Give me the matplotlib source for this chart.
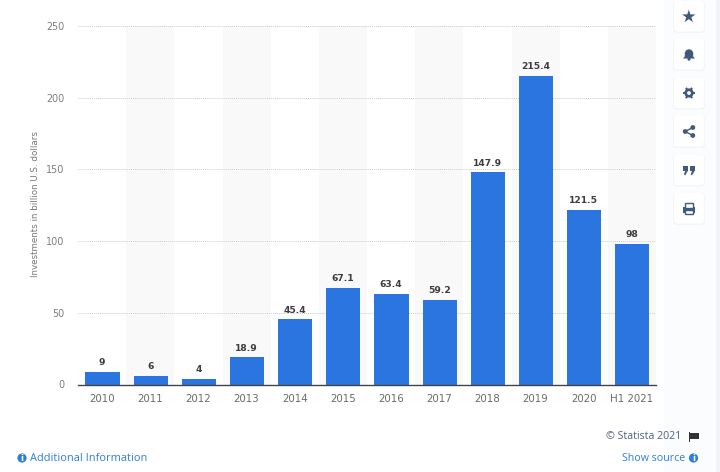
import matplotlib
matplotlib.use("Agg")
import matplotlib.pyplot as plt
from matplotlib.patches import Circle, FancyBboxPatch, Polygon, Rectangle, Wedge
import numpy as np

years = ["2010", "2011", "2012", "2013", "2014", "2015", "2016", "2017", "2018", "2019", "2020", "H1 2021"]
investments = [9, 6, 4, 18.9, 45.4, 67.1, 63.4, 59.2, 147.9, 215.4, 121.5, 98]
bar_labels = ["9", "6", "4", "18.9", "45.4", "67.1", "63.4", "59.2", "147.9", "215.4", "121.5", "98"]
y_ticks = [0, 50, 100, 150, 200, 250]

W, H = 720, 472
BLUE = "#2a75e0"
LINK = "#2f7fd8"
ICON = "#3f5a7c"

plt.rcParams["font.family"] = ["DejaVu Sans"]
fig = plt.figure(figsize=(W / 100, H / 100), dpi=100, facecolor="white")

# page layer in pixel coordinates
bg = fig.add_axes([0, 0, 1, 1], zorder=0)
bg.set_xlim(0, W)
bg.set_ylim(H, 0)
bg.axis("off")
bg.add_patch(Rectangle((664, 0), 52, H, color="#fbfcfd", lw=0))
bg.add_patch(Rectangle((716, 0), 4, H, color="#f1f3f8", lw=0))

# chart
ax = fig.add_axes([78 / W, 1 - 384.5 / H, 578 / W, 358.5 / H], zorder=1)
ax.patch.set_alpha(0)
x = np.arange(len(years))
for i in x[1::2]:
    ax.axvspan(i - 0.5, i + 0.5, color="#f9f9f9", lw=0, zorder=0)
ax.bar(x + 0.01, investments, width=0.71, color=BLUE, zorder=3)
for i, (v, s) in enumerate(zip(investments, bar_labels)):
    ax.annotate(s, (i, v), xytext=(0, 3.5), textcoords="offset points", ha="center", va="bottom",
                fontsize=6.6, fontweight="bold", color="#3d3d3d", zorder=4)

ax.set_xlim(-0.5, len(years) - 0.5)
ax.set_ylim(0, 250)
ax.set_xticks(x, years)
ax.set_yticks(y_ticks)
ax.grid(axis="y", color="#cccccc", linestyle=(0, (1, 1)), linewidth=0.7, zorder=1)
ax.set_axisbelow(True)
ax.tick_params(axis="both", length=0, labelsize=7.4, labelcolor="#6b6b6b")
ax.tick_params(axis="x", pad=6.5)
ax.tick_params(axis="y", pad=10, labelsize=6.9, labelcolor="#7d7d7d")
for name in ["top", "right", "left"]:
    ax.spines[name].set_visible(False)
ax.spines["bottom"].set_color("#444444")
ax.spines["bottom"].set_linewidth(1)
ax.spines["bottom"].set_zorder(5)
ax.set_ylabel("Investments in billion U.S. dollars", fontsize=6.3, color="#777777")
ax.yaxis.set_label_coords(-37.5 / 578, 0.503)


# top layer: footer and side buttons
ui = fig.add_axes([0, 0, 1, 1], zorder=2)
ui.set_xlim(0, W)
ui.set_ylim(H, 0)
ui.axis("off")


def info_icon(cx, cy):
    ui.add_patch(Circle((cx, cy), 4.6, color=LINK, lw=0))
    ui.text(cx, cy + 0.2, "i", color="white", fontsize=6, fontweight="bold", ha="center", va="center")


info_icon(22, 458)
ui.text(29.5, 458.7, "Additional Information", color=LINK, fontsize=7.9, va="center", family="Open Sans")
ui.text(685.5, 458.7, "Show source", color=LINK, fontsize=7.7, va="center", ha="right", family="Open Sans")
info_icon(693.5, 458)
ui.text(681, 436.5, "© Statista 2021", color="#4d6280", fontsize=7.7, va="center", ha="right", family="Open Sans")
ui.add_patch(Rectangle((688.5, 432), 1, 9.5, color="#333333", lw=0))
ui.add_patch(Polygon([(690, 433), (698.5, 433), (698.5, 438.5), (690, 438.5)], color="#333333", lw=0))

button_y = [16.5, 54.5, 93, 131.5, 170, 208.5]
for cy in button_y:
    ui.add_patch(FancyBboxPatch((673, cy - 15.5), 32, 32, boxstyle="round,pad=0,rounding_size=4",
                                facecolor="#f3f5f8", edgecolor="none"))
    ui.add_patch(FancyBboxPatch((674, cy - 15.5), 30, 30.5, boxstyle="round,pad=0,rounding_size=3",
                                facecolor="white", edgecolor="none"))

cx = 689
# star
ui.text(cx, button_y[0], "★", color=ICON, fontsize=12.5, ha="center", va="center", family="DejaVu Sans")
# bell
cy = button_y[1]
ui.add_patch(Wedge((cx, cy - 1), 4.2, 180, 360, color=ICON, lw=0))
ui.add_patch(Polygon([(cx - 4.2, cy - 1.5), (cx + 4.2, cy - 1.5), (cx + 4.2, cy + 2), (cx + 6, cy + 4), (cx - 6, cy + 4), (cx - 4.2, cy + 2)], color=ICON, lw=0))
ui.add_patch(Circle((cx, cy + 4.6), 1.6, color=ICON, lw=0))
# gear
cy = button_y[2]
ui.add_patch(Circle((cx, cy), 4.6, color=ICON, lw=0))
for a in np.deg2rad(np.arange(0, 360, 60)):
    ui.plot([cx + 3.5 * np.cos(a), cx + 6 * np.cos(a)], [cy + 3.5 * np.sin(a), cy + 6 * np.sin(a)],
            color=ICON, lw=1.5, solid_capstyle="butt")
ui.add_patch(Circle((cx, cy), 1.9, color="white", lw=0))
# share
cy = button_y[3]
nodes = [(cx - 3.8, cy), (cx + 3.8, cy - 4), (cx + 3.8, cy + 4)]
ui.plot([nodes[1][0], nodes[0][0], nodes[2][0]], [nodes[1][1], nodes[0][1], nodes[2][1]], color=ICON, lw=1)
for n in nodes:
    ui.add_patch(Circle(n, 2.4, color=ICON, lw=0))
# quotes
cy = button_y[4]
for off in (-3.4, 3.4):
    ui.add_patch(Rectangle((cx + off - 2.8, cy - 4.5), 5.6, 5, color=ICON, lw=0))
    ui.add_patch(Polygon([(cx + off + 2.8, cy), (cx + off - 0.5, cy + 5.5), (cx + off - 1.7, cy + 4.3), (cx + off, cy)], color=ICON, lw=0))
# print
cy = button_y[5]
ui.add_patch(Rectangle((cx - 6, cy - 1.5), 12, 5.5, color=ICON, lw=0))
ui.add_patch(Rectangle((cx - 3.8, cy - 5.5), 7.6, 4.5, facecolor="white", edgecolor=ICON, lw=1))
ui.add_patch(Rectangle((cx - 3.8, cy + 1.5), 7.6, 4, facecolor="white", edgecolor=ICON, lw=1))

fig.savefig("out.png", dpi=100)
